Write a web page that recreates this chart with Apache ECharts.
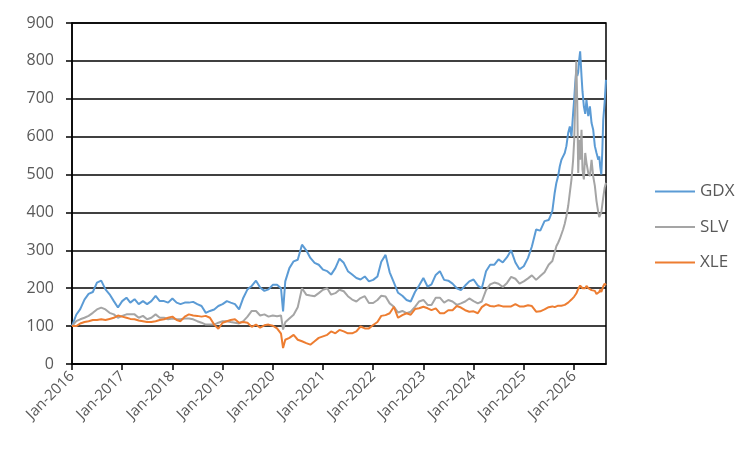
<!DOCTYPE html>
<html>
<head>
<meta charset="utf-8">
<script src="https://cdn.jsdelivr.net/npm/echarts@6/dist/echarts.min.js"></script>
<style>
	html, body { margin: 0; padding: 0; background: #fff; }
	#lineChart { width: 753px; height: 455px; }
</style>
</head>
<body>
<div id="lineChart"></div>
<script>
// dates of the points (monthly, then finer at the end)
var dates = [
	'2016-01-01', '2016-02-01', '2016-03-01', '2016-04-01', '2016-05-01', '2016-06-01', '2016-07-01', '2016-08-01', '2016-09-01', '2016-10-01', '2016-11-01', '2016-12-01',
	'2017-01-01', '2017-02-01', '2017-03-01', '2017-04-01', '2017-05-01', '2017-06-01', '2017-07-01', '2017-08-01', '2017-09-01', '2017-10-01', '2017-11-01', '2017-12-01',
	'2018-01-01', '2018-02-01', '2018-03-01', '2018-04-01', '2018-05-01', '2018-06-01', '2018-07-01', '2018-08-01', '2018-09-01', '2018-10-01', '2018-11-01', '2018-12-01',
	'2019-01-01', '2019-02-01', '2019-03-01', '2019-04-01', '2019-05-01', '2019-06-01', '2019-07-01', '2019-08-01', '2019-09-01', '2019-10-01', '2019-11-01', '2019-12-01',
	'2020-01-01', '2020-02-01', '2020-03-01', '2020-03-16', '2020-04-01', '2020-05-01', '2020-06-01', '2020-07-01', '2020-08-01', '2020-09-01', '2020-10-01', '2020-11-01', '2020-12-01',
	'2021-01-01', '2021-02-01', '2021-03-01', '2021-04-01', '2021-05-01', '2021-06-01', '2021-07-01', '2021-08-01', '2021-09-01', '2021-10-01', '2021-11-01', '2021-12-01',
	'2022-01-01', '2022-02-01', '2022-03-01', '2022-04-01', '2022-05-01', '2022-06-01', '2022-07-01', '2022-08-01', '2022-09-01', '2022-10-01', '2022-11-01', '2022-12-01',
	'2023-01-01', '2023-02-01', '2023-03-01', '2023-04-01', '2023-05-01', '2023-06-01', '2023-07-01', '2023-08-01', '2023-09-01', '2023-10-01', '2023-11-01', '2023-12-01',
	'2024-01-01', '2024-02-01', '2024-03-01', '2024-04-01', '2024-05-01', '2024-06-01', '2024-07-01', '2024-08-01', '2024-09-01', '2024-10-01', '2024-11-01', '2024-12-01',
	'2025-01-01', '2025-02-01', '2025-03-01', '2025-04-01', '2025-05-01', '2025-06-01', '2025-07-01',
	'2025-07-09', '2025-07-28', '2025-08-14', '2025-08-26', '2025-09-08', '2025-09-20', '2025-10-02', '2025-10-14', '2025-10-26', '2025-11-07',
	'2025-11-20', '2025-12-02', '2025-12-14', '2025-12-26', '2026-01-03', '2026-01-10', '2026-01-18', '2026-01-25', '2026-02-01', '2026-02-08',
	'2026-02-15', '2026-02-25', '2026-03-04', '2026-03-14', '2026-03-24', '2026-04-02', '2026-04-15', '2026-04-27', '2026-05-09', '2026-05-21',
	'2026-06-02', '2026-06-14', '2026-06-27', '2026-07-04', '2026-07-11', '2026-07-19', '2026-07-26', '2026-08-02', '2026-08-12', '2026-08-22'
];

var gdx = [
	100, 130, 145, 170, 185, 190, 215, 220, 197, 184, 166, 149,
	166, 175, 162, 171, 158, 166, 158, 166, 180, 166, 166, 162,
	173, 162, 158, 162, 162, 164, 158, 153, 135, 140, 144, 153,
	158, 166, 162, 158, 144, 175, 197, 206, 220, 202, 193, 197,
	209, 209, 200, 139, 218, 253, 271, 275, 315, 300, 280, 267, 262,
	249, 245, 236, 253, 278, 267, 245, 236, 227, 223, 231, 218,
	222, 231, 270, 288, 242, 215, 188, 180, 169, 165, 190, 207,
	227, 204, 210, 235, 245, 222, 220, 212, 200, 195, 207, 218,
	223, 207, 200, 245, 262, 262, 276, 268, 282, 300, 268, 250,
	258, 280, 310, 355, 352, 377, 380,
	386, 404, 452, 478, 496, 522, 539, 548, 557, 575,
	610, 627, 600, 662, 700, 740, 776, 760, 770, 803,
	825, 760, 720, 680, 660, 697, 654, 680, 636, 618,
	575, 557, 539, 548, 520, 500, 560, 645, 690, 750
];

var slv = [
	100, 113, 118, 122, 127, 135, 144, 149, 144, 135, 131, 122,
	127, 131, 131, 131, 122, 127, 118, 122, 131, 122, 122, 118,
	120, 118, 118, 120, 120, 118, 113, 109, 104, 104, 104, 109,
	113, 113, 111, 109, 107, 113, 125, 140, 140, 128, 131, 125,
	128, 126, 128, 91, 110, 120, 130, 150, 200, 183, 181, 179, 187,
	196, 200, 183, 187, 196, 192, 179, 170, 165, 174, 179, 161,
	161, 169, 180, 178, 160, 151, 136, 140, 134, 138, 151, 165,
	169, 156, 156, 175, 175, 162, 169, 165, 156, 160, 165, 173,
	166, 160, 165, 195, 210, 215, 212, 203, 214, 230, 225, 212,
	218, 226, 234, 222, 232, 242, 262,
	263, 272, 294, 311, 320, 330, 335, 355, 370, 390,
	417, 452, 487, 539, 592, 689, 800, 689, 504, 592,
	539, 618, 513, 487, 557, 531, 504, 496, 539, 495,
	470, 430, 400, 388, 383, 400, 420, 440, 465, 478
];

var xle = [
	100, 100, 107, 111, 113, 116, 116, 118, 116, 119, 122, 128,
	125, 122, 119, 118, 115, 113, 111, 111, 113, 116, 118, 122,
	125, 116, 113, 125, 131, 128, 127, 125, 127, 122, 104, 93,
	109, 113, 116, 118, 109, 111, 109, 98, 104, 96, 102, 104,
	101, 94, 80, 42, 64, 69, 77, 64, 60, 55, 51, 60, 69,
	73, 77, 86, 81, 90, 86, 81, 81, 86, 99, 94, 94,
	103, 111, 127, 129, 134, 151, 122, 129, 134, 130, 145, 147,
	151, 147, 142, 147, 134, 134, 142, 142, 153, 149, 142, 138,
	139, 134, 150, 158, 153, 152, 155, 152, 152, 152, 158, 152,
	152, 155, 153, 138, 139, 144, 150,
	150, 152, 150, 152, 154, 153, 154, 155, 156, 158,
	162, 167, 170, 175, 178, 182, 186, 192, 198, 203,
	207, 205, 200, 204, 200, 206, 200, 202, 195, 200,
	193, 185, 180, 190, 196, 190, 195, 205, 212, 208
];

var seriesNames = ['GDX', 'SLV', 'XLE'];
var yearTicks = [2016, 2017, 2018, 2019, 2020, 2021, 2022, 2023, 2024, 2025, 2026];

var textFont = 'Open Sans';
var textColor = '#595959';

// date string -> decimal year
function toYear(s) {
	var p = s.split('-');
	var y = +p[0];
	var start = Date.UTC(y, 0, 1);
	var t = Date.UTC(y, +p[1] - 1, +p[2]);
	return y + (t - start) / (Date.UTC(y + 1, 0, 1) - start);
}

function pairs(values) {
	return values.map(function(v, i) {
		return [toYear(dates[i]), v];
	});
}

var lineChart = echarts.init(document.getElementById('lineChart'));
lineChart.setOption({
	animation: false,
	color: ['#5B9BD5', '#A5A5A5', '#ED7D31'],
	grid: {
		left: 72,
		right: 147,
		top: 23,
		bottom: 91,
		show: true,
		borderColor: '#000',
		borderWidth: 1.5
	},
	legend: {
		orient: 'vertical',
		left: 655,
		top: 183,
		padding: 0,
		icon: 'rect',
		itemWidth: 40,
		itemHeight: 2,
		itemGap: 18.5,
		data: seriesNames,
		textStyle: {
			color: textColor,
			fontSize: 17,
			fontFamily: textFont
		}
	},
	xAxis: {
		type: 'value',
		min: 2016,
		max: toYear(dates[dates.length - 1]),
		interval: 1,
		axisLine: {
			lineStyle: { color: '#000', width: 1.5 }
		},
		axisTick: {
			show: true,
			length: 6,
			customValues: yearTicks,
			lineStyle: { color: '#000', width: 1.5 }
		},
		axisLabel: {
			rotate: 45,
			margin: 10,
			customValues: yearTicks,
			color: textColor,
			fontSize: 15,
			fontFamily: textFont,
			formatter: function(value) {
				return 'Jan-' + Math.round(value);
			}
		},
		splitLine: { show: false }
	},
	yAxis: {
		type: 'value',
		min: 0,
		max: 900,
		interval: 100,
		axisLine: {
			show: true,
			lineStyle: { color: '#000', width: 1.5 }
		},
		axisTick: {
			show: true,
			length: 6,
			lineStyle: { color: '#000', width: 1.5 }
		},
		axisLabel: {
			margin: 18,
			color: textColor,
			fontSize: 16,
			fontFamily: textFont
		},
		splitLine: {
			lineStyle: { color: '#000', width: 1.5 }
		}
	},
	series: [{
			name: 'GDX',
			type: 'line',
			symbol: 'none',
			lineStyle: { width: 2 },
			data: pairs(gdx)
		},
		{
			name: 'SLV',
			type: 'line',
			symbol: 'none',
			lineStyle: { width: 2 },
			data: pairs(slv)
		},
		{
			name: 'XLE',
			type: 'line',
			symbol: 'none',
			lineStyle: { width: 2 },
			data: pairs(xle)
		}
	]
});
</script>
</body>
</html>
